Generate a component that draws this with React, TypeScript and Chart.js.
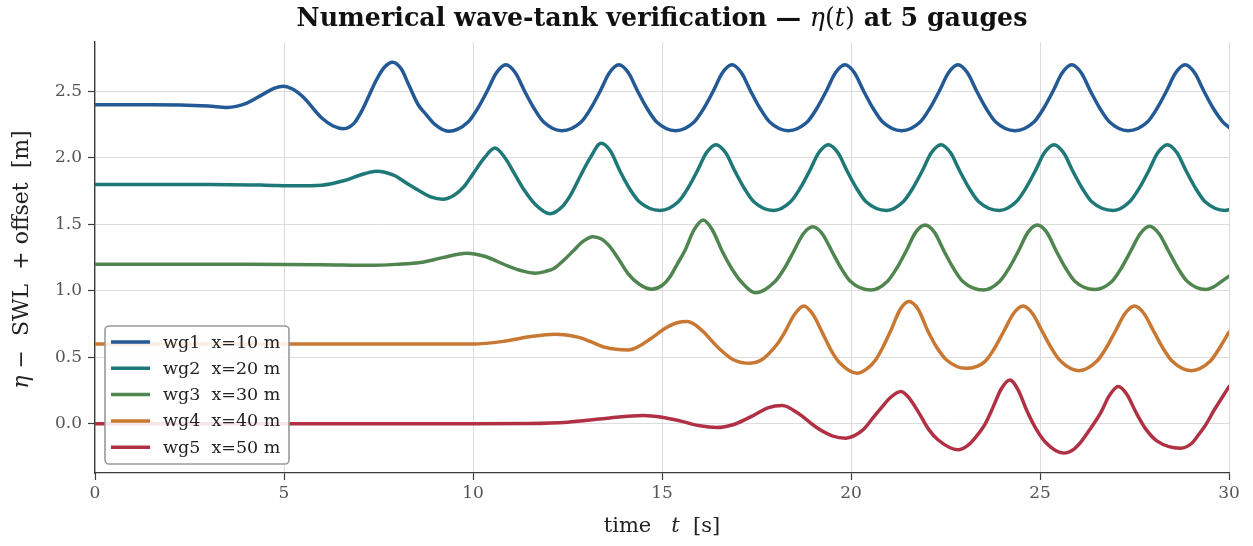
import React, { useEffect, useRef } from "react";
import { Chart, registerables } from "chart.js";

Chart.register(...registerables);

// ---------- data ----------
const GAUGE_LABELS = ["wg1  x=10 m", "wg2  x=20 m", "wg3  x=30 m", "wg4  x=40 m", "wg5  x=50 m"];
const OFFSETS = [2.4, 1.8, 1.2, 0.6, 0.0];
const COLORS = ["#235994", "#1f7878", "#508550", "#c87832", "#b03044"];
const X_TICKS = [0, 5, 10, 15, 20, 25, 30];
const Y_TICKS = [0, 0.5, 1.0, 1.5, 2.0, 2.5];

// time [s] and eta - SWL [m], gauge by gauge
const wg1T = [0, 1.5, 3.0, 3.5, 4.0, 4.45, 4.75, 4.98, 5.25, 5.5, 6.0, 6.3, 6.57, 6.85, 7.05, 7.25, 7.45, 7.65, 7.87, 8.1, 8.3, 8.55, 8.75, 9.0, 9.35,
  9.87, 10.12, 10.37, 10.62, 10.87, 11.12, 11.37, 11.62, 11.87, 12.35,
  12.86, 13.11, 13.36, 13.61, 13.86, 14.11, 14.36, 14.61, 14.86, 15.36,
  15.85, 16.1, 16.35, 16.6, 16.85, 17.1, 17.35, 17.6, 17.85, 18.34,
  18.84, 19.09, 19.34, 19.59, 19.84, 20.09, 20.34, 20.59, 20.84, 21.34,
  21.83, 22.08, 22.33, 22.58, 22.83, 23.08, 23.33, 23.58, 23.83, 24.34,
  24.84, 25.09, 25.34, 25.59, 25.84, 26.09, 26.34, 26.59, 26.84, 27.33,
  27.84, 28.09, 28.34, 28.59, 28.84, 29.09, 29.34, 29.59, 29.84, 30];
const wg1Eta = [0, 0, -0.01, -0.02, 0.01, 0.08, 0.125, 0.14, 0.115, 0.06, -0.10, -0.16, -0.18, -0.14, -0.05, 0.07, 0.19, 0.28, 0.32, 0.27, 0.15, 0.0, -0.07, -0.15, -0.20,
  -0.13, -0.03, 0.10, 0.24, 0.30, 0.24, 0.10, -0.03, -0.13, -0.195,
  -0.13, -0.03, 0.10, 0.24, 0.30, 0.24, 0.10, -0.03, -0.13, -0.195,
  -0.13, -0.03, 0.10, 0.24, 0.30, 0.24, 0.10, -0.03, -0.13, -0.195,
  -0.13, -0.03, 0.10, 0.24, 0.30, 0.24, 0.10, -0.03, -0.13, -0.195,
  -0.13, -0.03, 0.10, 0.24, 0.30, 0.24, 0.10, -0.03, -0.13, -0.195,
  -0.13, -0.03, 0.10, 0.24, 0.30, 0.24, 0.10, -0.03, -0.13, -0.195,
  -0.13, -0.03, 0.10, 0.24, 0.30, 0.24, 0.10, -0.03, -0.13, -0.17];

const wg2T = [0, 3.0, 4.5, 5.3, 6.0, 6.6, 7.0, 7.45, 7.9, 8.3, 8.6, 8.9, 9.2, 9.5, 9.75, 10.0, 10.3, 10.58, 10.85, 11.1, 11.35, 11.65, 12.04, 12.35, 12.6, 12.85, 13.1, 13.39, 13.64, 13.89, 14.14, 14.4, 14.95,
  15.43, 15.68, 15.93, 16.18, 16.43, 16.68, 16.93, 17.18, 17.43, 17.95,
  18.40, 18.65, 18.90, 19.15, 19.40, 19.65, 19.90, 20.15, 20.40, 20.94,
  21.38, 21.63, 21.88, 22.13, 22.38, 22.63, 22.88, 23.13, 23.38, 23.92,
  24.37, 24.62, 24.87, 25.12, 25.37, 25.62, 25.87, 26.12, 26.37, 26.94,
  27.37, 27.62, 27.87, 28.12, 28.37, 28.62, 28.87, 29.12, 29.37, 29.9, 30];
const wg2Eta = [0, 0, -0.005, -0.01, -0.005, 0.03, 0.07, 0.10, 0.07, 0.0, -0.05, -0.095, -0.11, -0.08, -0.02, 0.08, 0.20, 0.275, 0.20, 0.08, -0.04, -0.15, -0.22, -0.17, -0.07, 0.07, 0.20, 0.31, 0.25, 0.10, -0.03, -0.13, -0.195,
  -0.13, -0.03, 0.10, 0.24, 0.30, 0.24, 0.10, -0.03, -0.13, -0.195,
  -0.13, -0.03, 0.10, 0.24, 0.30, 0.24, 0.10, -0.03, -0.13, -0.195,
  -0.13, -0.03, 0.10, 0.24, 0.30, 0.24, 0.10, -0.03, -0.13, -0.195,
  -0.13, -0.03, 0.10, 0.24, 0.30, 0.24, 0.10, -0.03, -0.13, -0.195,
  -0.13, -0.03, 0.10, 0.24, 0.30, 0.24, 0.10, -0.03, -0.13, -0.195, -0.19];

const wg3T = [0, 4.0, 6.0, 7.3, 8.0, 8.6, 9.2, 9.83, 10.3, 10.9, 11.3, 11.64, 11.9, 12.15, 12.4, 12.65, 12.9, 13.17, 13.4, 13.6, 13.85, 14.1, 14.4, 14.73, 15.0, 15.2, 15.4, 15.6, 15.85, 16.09, 16.33, 16.59, 16.84, 17.09, 17.48,
  17.99, 18.24, 18.49, 18.74, 18.99, 19.24, 19.49, 19.74, 19.99, 20.53,
  20.96, 21.21, 21.46, 21.71, 21.96, 22.21, 22.46, 22.71, 22.96, 23.5,
  23.93, 24.18, 24.43, 24.68, 24.93, 25.18, 25.43, 25.68, 25.93, 26.45,
  26.9, 27.15, 27.4, 27.65, 27.9, 28.15, 28.4, 28.65, 28.9, 29.39, 30];
const wg3Eta = [0, 0, -0.003, -0.008, 0.0, 0.013, 0.05, 0.083, 0.06, -0.01, -0.05, -0.067, -0.055, -0.03, 0.03, 0.10, 0.17, 0.208, 0.19, 0.14, 0.04, -0.07, -0.15, -0.187, -0.16, -0.10, 0.0, 0.10, 0.26, 0.333, 0.26, 0.10, -0.03, -0.13, -0.214,
  -0.13, -0.03, 0.10, 0.23, 0.282, 0.23, 0.10, -0.03, -0.13, -0.194,
  -0.13, -0.03, 0.10, 0.24, 0.295, 0.24, 0.10, -0.03, -0.13, -0.194,
  -0.13, -0.03, 0.10, 0.24, 0.295, 0.24, 0.10, -0.03, -0.13, -0.19,
  -0.13, -0.03, 0.10, 0.23, 0.287, 0.23, 0.10, -0.03, -0.13, -0.19, -0.09];

const wg4T = [0, 9.0, 10.0, 10.8, 11.5, 12.17, 12.8, 13.1, 13.5, 14.11, 14.4, 14.7, 15.1, 15.4, 15.67, 15.9, 16.1, 16.5, 16.9, 17.34, 17.6, 17.8, 18.05, 18.25, 18.5, 18.75, 19.0, 19.25, 19.5, 19.7, 20.17, 20.45, 20.65, 20.85, 21.05, 21.3, 21.53, 21.78, 22.03, 22.28, 22.53, 23.04,
  23.55, 23.8, 24.05, 24.3, 24.55, 24.8, 25.05, 25.3, 25.55, 26.03,
  26.5, 26.75, 27.0, 27.25, 27.5, 27.75, 28.0, 28.25, 28.5, 29.0,
  29.5, 29.75, 30];
const wg4Eta = [0, 0, 0.0, 0.02, 0.055, 0.074, 0.05, 0.02, -0.025, -0.044, -0.015, 0.04, 0.12, 0.16, 0.169, 0.14, 0.09, -0.03, -0.12, -0.145, -0.125, -0.08, 0.0, 0.09, 0.22, 0.286, 0.22, 0.08, -0.06, -0.14, -0.22, -0.18, -0.12, -0.02, 0.10, 0.26, 0.32, 0.26, 0.10, -0.03, -0.12, -0.183,
  -0.13, -0.03, 0.10, 0.23, 0.286, 0.23, 0.10, -0.03, -0.13, -0.20,
  -0.13, -0.03, 0.10, 0.23, 0.286, 0.23, 0.10, -0.03, -0.13, -0.20,
  -0.13, -0.03, 0.09];

const wg5T = [0, 10, 11.5, 12.5, 13.5, 14.5, 15.0, 15.5, 16.0, 16.45, 16.9, 17.4, 17.8, 18.18, 18.6, 19.1, 19.5, 19.86, 20.3, 20.57, 20.8, 21.05, 21.32, 21.55, 21.8, 22.05, 22.3, 22.83, 23.1, 23.3, 23.55, 23.75, 23.97, 24.2, 24.43, 24.65, 24.9, 25.15, 25.63, 25.9, 26.1, 26.35, 26.6, 26.83, 27.07, 27.3, 27.55, 27.8, 28.1, 28.72, 29.0, 29.2, 29.4, 29.6, 29.8, 30];
const wg5Eta = [0, 0, 0.002, 0.012, 0.04, 0.063, 0.05, 0.02, -0.015, -0.028, -0.005, 0.06, 0.12, 0.138, 0.08, -0.03, -0.09, -0.108, -0.05, 0.04, 0.12, 0.20, 0.243, 0.19, 0.08, -0.04, -0.12, -0.195, -0.16, -0.10, 0.0, 0.12, 0.26, 0.33, 0.25, 0.10, -0.04, -0.14, -0.22, -0.19, -0.13, -0.03, 0.08, 0.21, 0.28, 0.22, 0.08, -0.04, -0.13, -0.183, -0.15, -0.08, 0.0, 0.10, 0.19, 0.28];

const SERIES_T = [wg1T, wg2T, wg3T, wg4T, wg5T];
const SERIES_ETA = [wg1Eta, wg2Eta, wg3Eta, wg4Eta, wg5Eta];

// ---------- text ----------
const SERIF = '"DejaVu Serif", serif';
type Seg = { text: string; style: string };
const TITLE_SEGS: Seg[] = [
  { text: "Numerical wave-tank verification — ", style: "bold" },
  { text: "η", style: "italic" },
  { text: "(", style: "" },
  { text: "t", style: "italic" },
  { text: ")", style: "" },
  { text: " at 5 gauges", style: "bold" },
];
const XLABEL_SEGS: Seg[] = [
  { text: "time   ", style: "" },
  { text: "t", style: "italic" },
  { text: "  [s]", style: "" },
];
const YLABEL_SEGS: Seg[] = [
  { text: "η", style: "italic" },
  { text: " −  SWL  + offset  [m]", style: "" },
];

function drawRich(ctx: CanvasRenderingContext2D, segs: Seg[], size: number, cx: number, cy: number) {
  const fonts = segs.map((s) => `${s.style} ${size}px ${SERIF}`.trim());
  const widths = segs.map((s, i) => {
    ctx.font = fonts[i];
    return ctx.measureText(s.text).width;
  });
  const total = widths.reduce((a, b) => a + b, 0);
  let x = cx - total / 2;
  ctx.textAlign = "left";
  ctx.textBaseline = "middle";
  segs.forEach((s, i) => {
    ctx.font = fonts[i];
    ctx.fillText(s.text, x, cy);
    x += widths[i];
  });
}

const decorPlugin = {
  id: "decor",
  afterDraw(chart: any) {
    const ctx: CanvasRenderingContext2D = chart.ctx;
    const a = chart.chartArea;
    const cx = (a.left + a.right) / 2;
    ctx.save();
    ctx.fillStyle = "#111";
    drawRich(ctx, TITLE_SEGS, 25.3, cx, 19.5);
    ctx.fillStyle = "#222";
    drawRich(ctx, XLABEL_SEGS, 21, cx, 527);
    ctx.save();
    ctx.translate(22, (a.top + a.bottom) / 2 + 2);
    ctx.rotate(-Math.PI / 2);
    drawRich(ctx, YLABEL_SEGS, 22, 0, 0);
    ctx.restore();

    // legend (lower left, inside axes)
    const rowH = 26.3;
    const n = chart.data.datasets.length;
    const bx = a.left + 10;
    const bw = 184;
    const bh = 138;
    const by = a.bottom - 9 - bh;
    const r = 4;
    ctx.beginPath();
    ctx.moveTo(bx + r, by);
    ctx.lineTo(bx + bw - r, by);
    ctx.arcTo(bx + bw, by, bx + bw, by + r, r);
    ctx.lineTo(bx + bw, by + bh - r);
    ctx.arcTo(bx + bw, by + bh, bx + bw - r, by + bh, r);
    ctx.lineTo(bx + r, by + bh);
    ctx.arcTo(bx, by + bh, bx, by + bh - r, r);
    ctx.lineTo(bx, by + r);
    ctx.arcTo(bx, by, bx + r, by, r);
    ctx.closePath();
    ctx.fillStyle = "rgba(255,255,255,0.88)";
    ctx.fill();
    ctx.strokeStyle = "#9a9a9a";
    ctx.lineWidth = 1.6;
    ctx.stroke();
    ctx.font = `17.5px ${SERIF}`;
    ctx.textAlign = "left";
    ctx.textBaseline = "middle";
    for (let i = 0; i < n; i++) {
      const ds = chart.data.datasets[i];
      const y = by + 16 + i * rowH;
      ctx.strokeStyle = ds.borderColor;
      ctx.lineWidth = 3.5;
      ctx.lineCap = "butt";
      ctx.beginPath();
      ctx.moveTo(bx + 6, y);
      ctx.lineTo(bx + 45, y);
      ctx.stroke();
      ctx.fillStyle = "#222";
      ctx.fillText(ds.label, bx + 58, y + 1);
    }
    ctx.restore();
  },
};

export default function App() {
  const ref = useRef<HTMLCanvasElement | null>(null);
  useEffect(() => {
    document.body.style.margin = "0";
    const canvas = ref.current;
    if (!canvas) return;
    const datasets = SERIES_T.map((ts, k) => ({
      label: GAUGE_LABELS[k],
      data: ts.map((t, i) => ({ x: t, y: SERIES_ETA[k][i] + OFFSETS[k] })),
      borderColor: COLORS[k],
      backgroundColor: COLORS[k],
      borderWidth: 3.5,
      pointRadius: 0,
      fill: false,
      cubicInterpolationMode: "monotone" as const,
      borderCapStyle: "round" as const,
      borderJoinStyle: "round" as const,
    }));
    const tickFont = { family: SERIF, size: 17 };
    const chart = new Chart(canvas, {
      type: "line",
      data: { datasets },
      options: {
        animation: false,
        responsive: false,
        devicePixelRatio: 1,
        layout: { padding: { top: 42, right: 24, left: 0, bottom: 0 } },
        plugins: {
          legend: { display: false },
          title: { display: false },
          tooltip: { enabled: false },
        },
        scales: {
          x: {
            type: "linear",
            min: 0,
            max: 30,
            afterBuildTicks: (s: any) => {
              s.ticks = X_TICKS.map((v) => ({ value: v }));
            },
            afterFit: (s: any) => {
              s.height = 73;
            },
            grid: { color: "#dcdcdc", lineWidth: 1, tickColor: "#3c3c3c", tickLength: 7, tickWidth: 1.2, drawTicks: true },
            border: { display: true, color: "#3c3c3c", width: 1.3 },
            ticks: { font: tickFont, color: "#555", padding: 3, maxRotation: 0, autoSkip: false, callback: (v: any) => String(v) },
          },
          y: {
            type: "linear",
            min: -0.37,
            max: 2.872,
            afterBuildTicks: (s: any) => {
              s.ticks = Y_TICKS.map((v) => ({ value: v }));
            },
            afterFit: (s: any) => {
              s.width = 95;
            },
            grid: { color: "#dcdcdc", lineWidth: 1, tickColor: "#3c3c3c", tickLength: 7, tickWidth: 1.2, drawTicks: true },
            border: { display: true, color: "#3c3c3c", width: 1.3 },
            ticks: { font: tickFont, color: "#555", padding: 6, autoSkip: false, callback: (v: any) => Number(v).toFixed(1) },
          },
        },
      },
      plugins: [decorPlugin],
    });
    return () => chart.destroy();
  }, []);
  return (
    <div style={{ width: 1253, height: 546, background: "#fff" }}>
      <canvas ref={ref} width={1253} height={546} style={{ display: "block" }} />
    </div>
  );
}
